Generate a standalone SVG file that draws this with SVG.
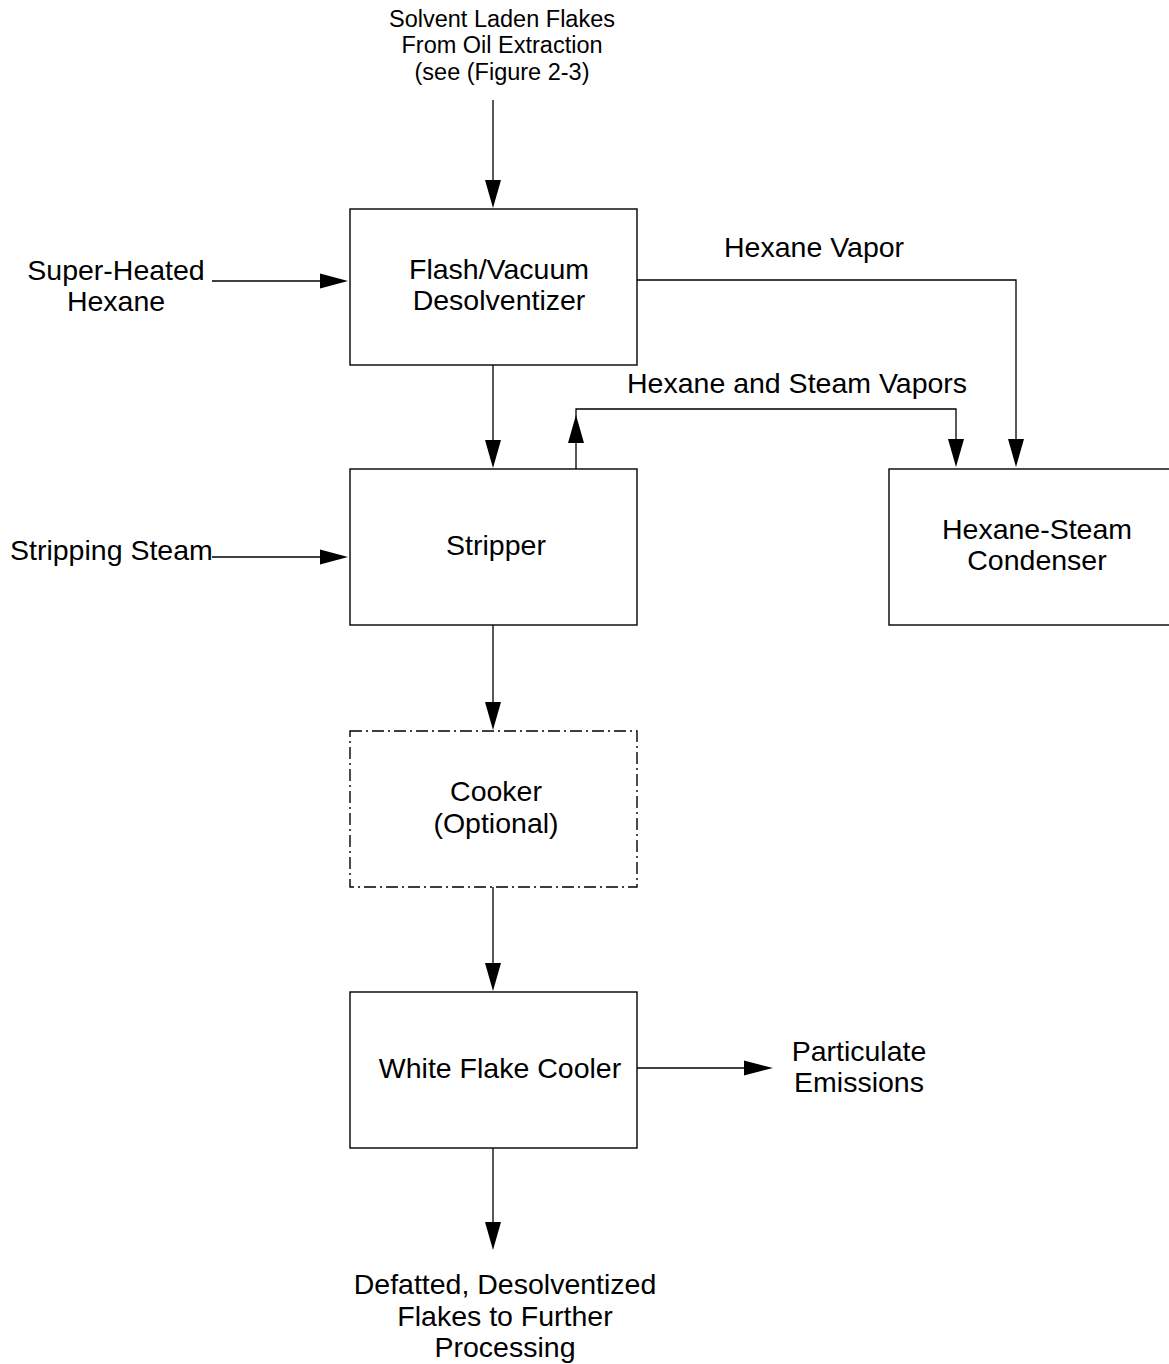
<svg xmlns="http://www.w3.org/2000/svg" width="1169" height="1364" viewBox="0 0 1169 1364">
  <style>
    .box { fill: #ffffff; stroke: #000000; stroke-width: 1.4; }
    .dashed { stroke-dasharray: 12 4 2 4; }
    .line { fill: none; stroke: #000000; stroke-width: 1.3; }
    .head { fill: #000000; stroke: none; }
    text { font-family: "Liberation Sans", Arial, sans-serif; font-size: 28.5px; fill: #000000; }
    .small { font-size: 23.5px; }
    .mid { text-anchor: middle; }
  </style>
  <rect width="1169" height="1364" fill="#ffffff"/>

  <!-- connectors -->
  <g id="connectors">
    <!-- feed from oil extraction -->
    <line class="line" x1="493" y1="100" x2="493" y2="182"/>
    <polygon class="head" points="485,180 501,180 493,208"/>
    <!-- super-heated hexane -->
    <line class="line" x1="212" y1="281" x2="322" y2="281"/>
    <polygon class="head" points="320,273.5 320,288.5 348,281"/>
    <!-- desolventizer to stripper -->
    <line class="line" x1="493" y1="365" x2="493" y2="442"/>
    <polygon class="head" points="485,440 501,440 493,468"/>
    <!-- hexane vapor to condenser -->
    <polyline class="line" points="637,280 1016,280 1016,441"/>
    <polygon class="head" points="1008,439 1024,439 1016,467"/>
    <!-- hexane and steam vapors from stripper to condenser -->
    <polyline class="line" points="576,469 576,409 956,409 956,441"/>
    <polygon class="head" points="568,443 584,443 576,415"/>
    <polygon class="head" points="948,439 964,439 956,467"/>
    <!-- stripping steam -->
    <line class="line" x1="212" y1="557" x2="322" y2="557"/>
    <polygon class="head" points="320,549.5 320,564.5 348,557"/>
    <!-- stripper to cooker -->
    <line class="line" x1="493" y1="625" x2="493" y2="704"/>
    <polygon class="head" points="485,702 501,702 493,730"/>
    <!-- cooker to white flake cooler -->
    <line class="line" x1="493" y1="887" x2="493" y2="965"/>
    <polygon class="head" points="485,963 501,963 493,991"/>
    <!-- particulate emissions -->
    <line class="line" x1="637" y1="1068" x2="746" y2="1068"/>
    <polygon class="head" points="744,1060.5 744,1075.5 773,1068"/>
    <!-- product out -->
    <line class="line" x1="493" y1="1148" x2="493" y2="1224"/>
    <polygon class="head" points="485,1222 501,1222 493,1250"/>
  </g>

  <!-- stream labels -->
  <g id="label-feed">
    <text class="small mid" x="502" y="27">Solvent Laden Flakes</text>
    <text class="small mid" x="502" y="53">From Oil Extraction</text>
    <text class="small mid" x="502" y="80">(see (Figure 2-3)</text>
  </g>
  <g id="label-superheated">
    <text class="mid" x="116" y="280">Super-Heated</text>
    <text class="mid" x="116" y="311">Hexane</text>
  </g>
  <g id="label-hexane-vapor">
    <text x="724" y="257">Hexane Vapor</text>
  </g>
  <g id="label-hexane-steam-vapors">
    <text x="627" y="393">Hexane and Steam Vapors</text>
  </g>
  <g id="label-stripping-steam">
    <text x="10" y="560">Stripping Steam</text>
  </g>
  <g id="label-particulate">
    <text class="mid" x="859" y="1061">Particulate</text>
    <text class="mid" x="859" y="1092">Emissions</text>
  </g>
  <g id="label-product">
    <text class="mid" x="505" y="1294">Defatted, Desolventized</text>
    <text class="mid" x="505" y="1326">Flakes to Further</text>
    <text class="mid" x="505" y="1357">Processing</text>
  </g>

  <!-- process units -->
  <g id="node-desolventizer">
    <rect class="box" x="350" y="209" width="287" height="156"/>
    <text class="mid" x="499" y="279">Flash/Vacuum</text>
    <text class="mid" x="499" y="310">Desolventizer</text>
  </g>
  <g id="node-stripper">
    <rect class="box" x="350" y="469" width="287" height="156"/>
    <text class="mid" x="496" y="555">Stripper</text>
  </g>
  <g id="node-condenser">
    <rect class="box" x="889" y="469" width="290" height="156"/>
    <text class="mid" x="1037" y="539">Hexane-Steam</text>
    <text class="mid" x="1037" y="570">Condenser</text>
  </g>
  <g id="node-cooker">
    <rect class="box dashed" x="350" y="731" width="287" height="156"/>
    <text class="mid" x="496" y="801">Cooker</text>
    <text class="mid" x="496" y="833">(Optional)</text>
  </g>
  <g id="node-white-flake-cooler">
    <rect class="box" x="350" y="992" width="287" height="156"/>
    <text class="mid" x="500" y="1078">White Flake Cooler</text>
  </g>
</svg>
